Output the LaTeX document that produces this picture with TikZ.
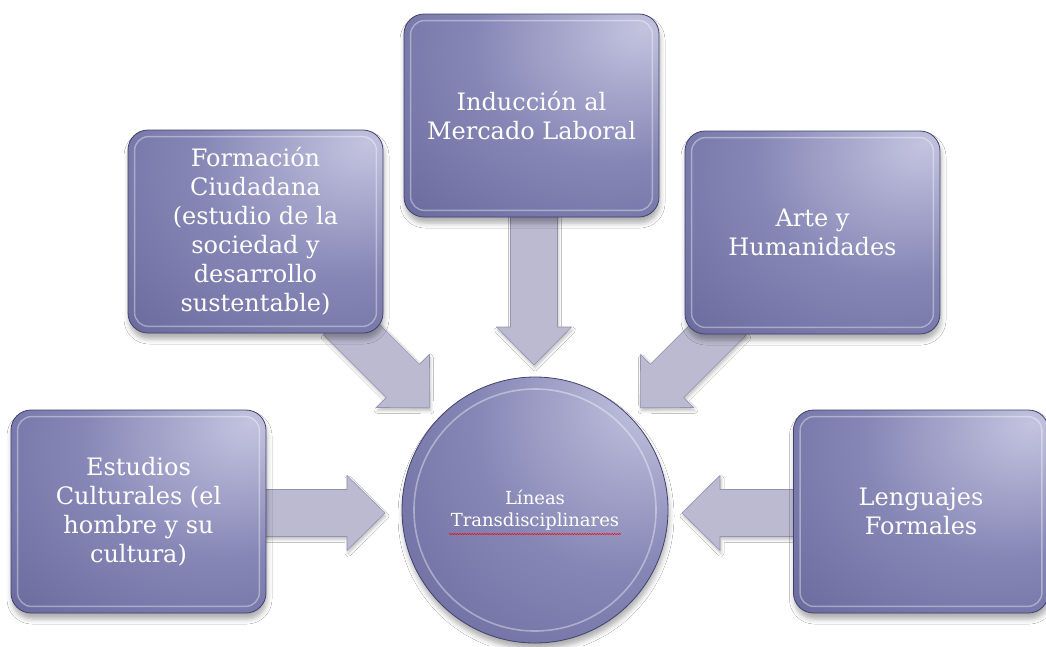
\documentclass[tikz,border=0pt]{standalone}
\usepackage{fontspec}
\setmainfont{DejaVu Serif}
\usetikzlibrary{shadows.blur,decorations.pathmorphing,calc}

\definecolor{bxhi}{RGB}{196,196,224}
\definecolor{bxmid}{RGB}{134,134,182}
\definecolor{bxdk}{RGB}{90,90,144}
\definecolor{bxedge}{RGB}{66,66,110}
\definecolor{arfill}{RGB}{188,186,208}
\definecolor{aredge}{RGB}{148,146,176}

\pgfdeclareradialshading{boxshade}{\pgfpoint{22bp}{22bp}}{color(0bp)=(bxhi); color(28bp)=(bxmid); color(66bp)=(bxdk); color(110bp)=(bxdk)}

\tikzset{
  tbox/.style={rectangle, rounded corners=20pt, minimum width=255pt, minimum height=203pt,
    shading=boxshade, draw=bxedge, line width=0.8pt, text=white, align=center,
    font=\fontsize{24}{29}\selectfont,
    blur shadow={shadow xshift=1pt, shadow yshift=-6pt, shadow blur radius=5pt, shadow opacity=32}},
  cbox/.style={circle, minimum size=266pt, inner sep=0pt,
    shading=boxshade, draw=bxedge, line width=0.8pt, text=white, align=center,
    font=\fontsize{18}{22}\selectfont,
    blur shadow={shadow xshift=1pt, shadow yshift=-6pt, shadow blur radius=5pt, shadow opacity=32}},
  bevel/.style={draw=white, draw opacity=0.38, line width=1.4pt, rounded corners=14pt},
  arrowshape/.style={fill=arfill, draw=aredge, line width=0.6pt,
    blur shadow={shadow xshift=1pt, shadow yshift=-3pt, shadow blur radius=3pt, shadow opacity=25}},
  pics/blockarrow/.style={code={
    \path[arrowshape] (0,-23.5) -- (#1-38,-23.5) -- (#1-38,-37.5) -- (#1,0)
      -- (#1-38,37.5) -- (#1-38,23.5) -- (0,23.5) -- cycle;}}
}

\begin{document}
\begin{tikzpicture}[x=1pt,y=-1pt]
\useasboundingbox (0,0) rectangle (1046,646);
\fill[white] (0,0) rectangle (1046,646);

% block arrows (tails hidden behind boxes)
\coordinate (tl) at (250,513);
\coordinate (tr) at (815,513);
\coordinate (tt) at (534,200);
\coordinate (tfl) at (340,318);
\coordinate (tfr) at (730,318);
\pic at (tl) {blockarrow=135};
\pic[rotate=180] at (tr) {blockarrow=133};
\pic[rotate=-90] at (tt) {blockarrow=165};
\pic[rotate=-45] at (tfl) {blockarrow=127};
\pic[rotate=-135] at (tfr) {blockarrow=127};

% boxes
\node[tbox] (ind) at (531.5,115.5) {Inducción al\\Mercado Laboral};
\node[tbox] (for) at (255.5,231.5) {Formación\\Ciudadana\\(estudio de la\\sociedad y\\desarrollo\\sustentable)};
\node[tbox] (art) at (812.5,232.5) {Arte y\\Humanidades};
\node[tbox] (est) at (138.5,511.5) {Estudios\\Culturales (el\\hombre y su\\cultura)};
\node[tbox] (len) at (921,511.5) {Lenguajes\\Formales};

\foreach \b in {ind,for,art,est,len}{
  \draw[bevel] ([xshift=7pt,yshift=-7pt]\b.north west) rectangle ([xshift=-7pt,yshift=7pt]\b.south east);
}

% centre circle
\node[cbox] (ctr) at (535,510) {Líneas\\Transdisciplinares};
\draw[draw=white, draw opacity=0.38, line width=1.6pt] (ctr.center) circle[radius=121];
\draw[red, line width=0.5pt, decorate, decoration={snake, amplitude=0.6pt, segment length=2.5pt}]
  ($(ctr.center)+(-86,24)$) -- ($(ctr.center)+(86,24)$);
\end{tikzpicture}
\end{document}
